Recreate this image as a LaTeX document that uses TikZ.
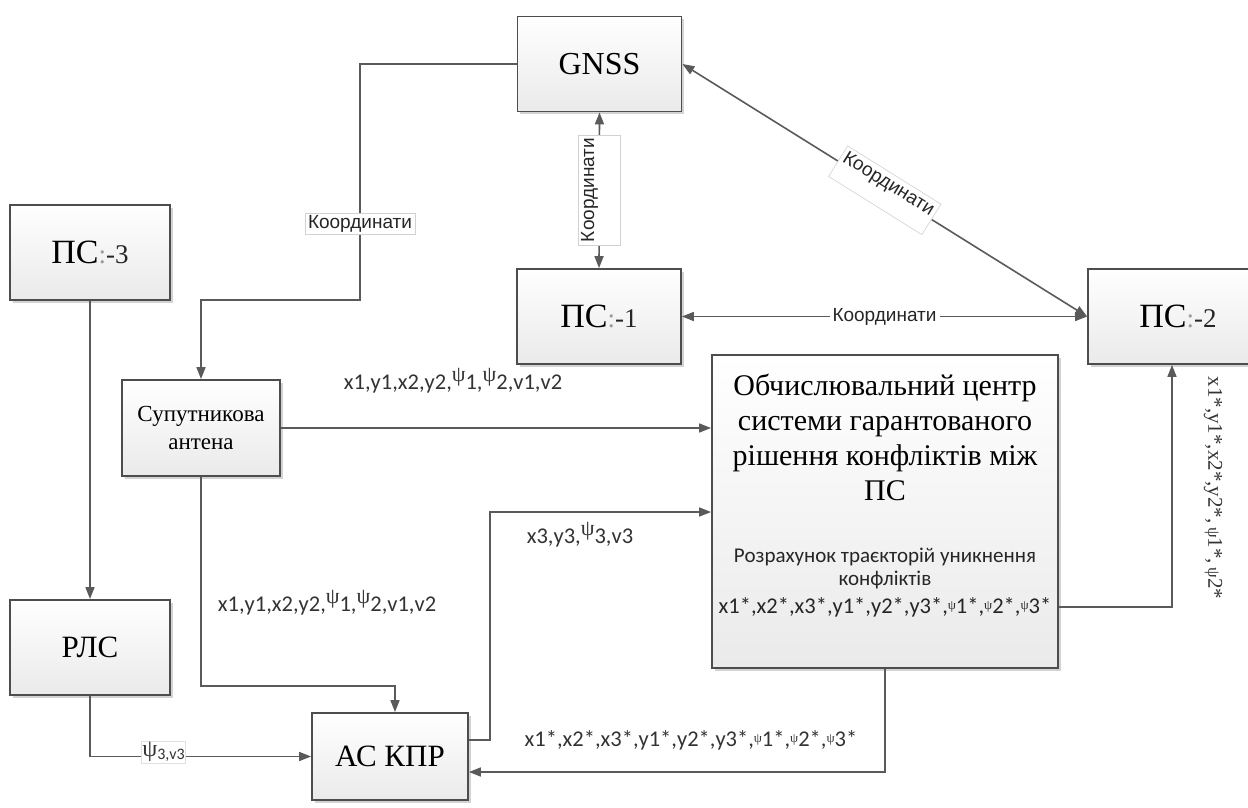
\documentclass[tikz,border=0pt]{standalone}
\usepackage{fontspec}
\setmainfont{Liberation Serif}
\newfontfamily\lblfont{Carlito}
\newfontfamily\arialfont{Liberation Sans}
\usetikzlibrary{arrows.meta,shadows}

\definecolor{linecol}{HTML}{5A5A5A}
\definecolor{boxline}{HTML}{4D4D4D}
\definecolor{boxbot}{HTML}{EAEAEA}
\definecolor{lbltext}{HTML}{333333}

% ПС:-n block caption
\newcommand\pslabel[1]{{\fontsize{34}{40}\selectfont ПС}{\fontsize{27}{30}\selectfont\textcolor{black!40}{:}\textcolor{black!85}{-#1}}}
% raised psi used in the coordinate lists
\newcommand\rpsi{\raisebox{8pt}{\fontsize{22}{22}\selectfont\rmfamily ψ}}
\newcommand\tpsi{\raisebox{4pt}{\fontsize{13}{13}\selectfont\rmfamily ψ}}

\tikzset{
  block/.style={draw=boxline, line width=1.8pt, top color=white, bottom color=boxbot,
    drop shadow={shadow xshift=2.5pt, shadow yshift=-2.5pt, opacity=0.35, fill=black!50},
    inner sep=2pt, align=center},
  conn/.style={draw=linecol, line width=1.6pt},
  arr/.style={-{Triangle[length=12pt,width=9pt]}},
  darr/.style={{Triangle[length=12pt,width=9pt]}-{Triangle[length=12pt,width=9pt]}},
  coordlbl/.style={fill=white, draw=black!18, line width=0.6pt, inner xsep=3pt, inner ysep=2pt,
    font=\arialfont\fontsize{19}{19}\selectfont, text=black!85},
  datalbl/.style={inner sep=1pt, font=\lblfont\fontsize{22.5}{24}\selectfont, text=lbltext},
}

\begin{document}
\begin{tikzpicture}[x=1pt,y=-1pt]
\useasboundingbox (0,0) rectangle (1248,807);

% blocks
\node[block, minimum width=164pt, minimum height=95pt, font=\rmfamily\fontsize{32}{36}\selectfont] (gnss) at (599.5,64) {GNSS};
\node[block, minimum width=160pt, minimum height=95pt] (ps3) at (90,252.5) {\pslabel{3}};
\node[block, minimum width=164pt, minimum height=95pt] (ps1) at (599,316.5) {\pslabel{1}};
\node[block, minimum width=180pt, minimum height=95pt] (ps2) at (1178,316.5) {\pslabel{2}};
\node[block, minimum width=158pt, minimum height=96pt, font=\rmfamily\fontsize{23}{28}\selectfont] (sat) at (201,428) {Супутникова\\антена};
\node[block, minimum width=346pt, minimum height=313pt] (obch) at (885,511.5) {};
\node[block, minimum width=160pt, minimum height=95pt, font=\rmfamily\fontsize{31}{36}\selectfont] (rls) at (90,647.5) {РЛС};
\node[block, minimum width=156pt, minimum height=87pt, font=\rmfamily\fontsize{31}{36}\selectfont] (askpr) at (390,756.5) {АС КПР};

% text of the computing centre
\node[align=center, font=\rmfamily\fontsize{30}{35}\selectfont] (obchtitle) at (885,437)
  {Обчислювальний центр\\системи гарантованого\\рішення конфліктів між\\ПС};
\node[align=center, font=\lblfont\fontsize{21}{23}\selectfont, text=black!85] (obchnote) at (885,568)
  {Розрахунок траєкторій уникнення\\конфліктів};
\node[font=\lblfont\fontsize{22.5}{24}\selectfont, text=black!85] (obchvals) at (885,607)
  {x1*,x2*,x3*,y1*,y2*,y3*,\tpsi1*,\tpsi2*,\tpsi3*};

% GNSS -> satellite antenna
\coordinate (k1) at (360,300);
\draw[conn,arr] (gnss.west) -| (k1) -| (sat.north);
\node[coordlbl] (lk1) at (360,224) {Координати};

% GNSS <-> ПС-1
\draw[conn,darr] (gnss.south) -- (ps1.north);
\node[coordlbl, rotate=90, text height=14pt, text depth=24pt] (lk2) at (599,190) {Координати};

% GNSS <-> ПС-2
\draw[conn,darr] (gnss.east) -- (ps2.west)
  node[coordlbl, sloped, pos=0.5, text height=14pt, text depth=18pt] (lk3) {Координати};

% ПС-1 <-> ПС-2
\draw[conn,darr] (ps1.east) -- (ps2.west)
  node[coordlbl, pos=0.5, draw=none] (lk4) {Координати};

% ПС-3 -> РЛС
\draw[conn,arr] (ps3.south) -- (rls.north);

% РЛС -> АС КПР
\draw[conn,arr] (rls.south) |- (askpr.west);
\node[datalbl, fill=white, draw=black!12, line width=0.5pt, anchor=west] (l6) at (141,752)
  {{\rmfamily\fontsize{24}{24}\selectfont ψ}\raisebox{-3pt}{\fontsize{16}{16}\selectfont 3,v3}};

% satellite antenna -> computing centre
\draw[conn,arr] (sat.east) -- (sat.east -| obch.west);
\node[datalbl] (l7) at (453,381) {x1,y1,x2,y2,\rpsi1,\rpsi2,v1,v2};

% satellite antenna -> АС КПР
\coordinate (k8a) at (201,686);
\coordinate (k8b) at (395,686);
\draw[conn,arr] (sat.south) -- (k8a) -- (k8b) -- (k8b |- askpr.north);
\node[datalbl] (l8) at (327,603) {x1,y1,x2,y2,\rpsi1,\rpsi2,v1,v2};

% АС КПР -> computing centre
\coordinate (k9a) at (490,740);
\coordinate (k9b) at (490,512);
\draw[conn,arr] (k9a -| askpr.east) -- (k9a) -- (k9b) -- (k9b -| obch.west);
\node[datalbl] (l9) at (580,535) {x3,y3,\rpsi3,v3};

% computing centre -> АС КПР
\coordinate (k10) at (885,772);
\draw[conn,arr] (obch.south) -- (k10) -- (k10 -| askpr.east);
\node[datalbl] (l10) at (691,740) {x1*,x2*,x3*,y1*,y2*,y3*,\tpsi1*,\tpsi2*,\tpsi3*};

% computing centre -> ПС-2
\coordinate (k11) at (1172,607);
\draw[conn,arr] (k11 -| obch.east) -- (k11) -- (k11 |- ps2.south);
\node[rotate=-90, font=\rmfamily\fontsize{21}{21}\selectfont, text=lbltext] (l11) at (1213,488)
  {x1*,y1*,x2*,y2*,\,{\fontsize{17}{17}\selectfont ψ}1*,\,{\fontsize{17}{17}\selectfont ψ}2*};
\end{tikzpicture}
\end{document}
